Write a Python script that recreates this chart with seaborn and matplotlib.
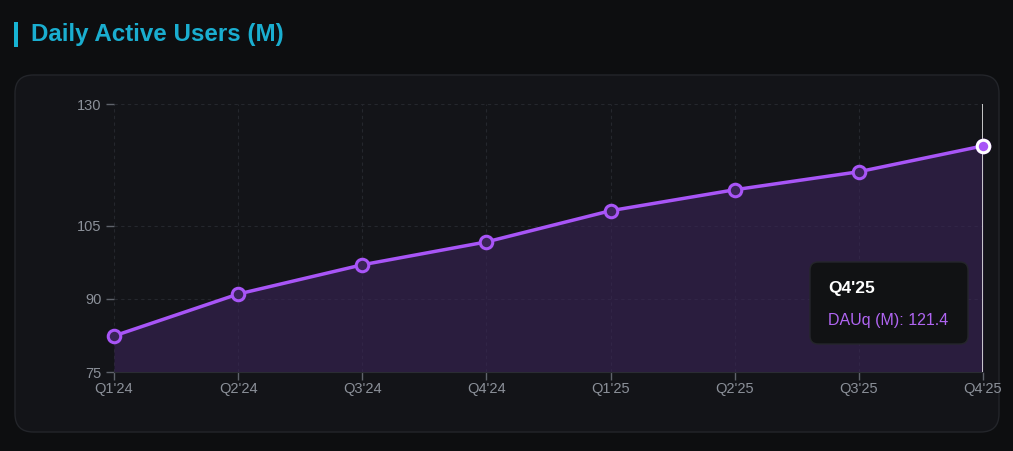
import pandas as pd
import matplotlib
matplotlib.use("Agg")
import matplotlib.pyplot as plt
from matplotlib.patches import FancyBboxPatch, Rectangle
import seaborn as sns

quarters = ["Q1'24", "Q2'24", "Q3'24", "Q4'24", "Q1'25", "Q2'25", "Q3'25", "Q4'25"]
dau = [82.4, 91.0, 97.0, 101.7, 108.1, 112.4, 116.1, 121.4]
y_ticks = [75, 90, 105, 130]

df = pd.DataFrame({"quarter": quarters, "dau": dau})
df["x"] = range(len(df))

sns.set_style("dark")
plt.rcParams["font.family"] = ["Liberation Sans", "DejaVu Sans"]

W, H = 1013, 451
fig = plt.figure(figsize=(W / 100, H / 100), dpi=100)
fig.patch.set_facecolor("#0d0e10")

# card
card = FancyBboxPatch((15 / W, 1 - 432 / H), (999 - 15) / W, (432 - 75) / H,
                      boxstyle="round,pad=0,rounding_size=0.018",
                      transform=fig.transFigure, facecolor="#131418",
                      edgecolor="#23252a", linewidth=1, mutation_aspect=W / H, zorder=-10)
fig.patches.append(card)

# title with accent bar
fig.patches.append(Rectangle((14 / W, 1 - 47 / H), 4 / W, 25 / H, transform=fig.transFigure,
                             facecolor="#17b3d3", edgecolor="none"))
fig.text(31 / W, 1 - 35 / H, "Daily Active Users (M)", color="#1aaed0", fontsize=17.4,
         fontweight="bold", va="center", ha="left")

ax = fig.add_axes([114 / W, 1 - 372 / H, (983 - 114) / W, (372 - 104) / H])
ax.set_facecolor("#131418")

purple = "#a855f7"
ax.fill_between(df["x"], df["dau"], 75, color="#3a2458", alpha=0.6, linewidth=0)
sns.lineplot(data=df, x="x", y="dau", ax=ax, color=purple, linewidth=2.5,
             marker="o", markersize=9, markerfacecolor="#3a2458",
             markeredgecolor=purple, markeredgewidth=2.2, clip_on=False, zorder=5)

# active point + cursor
last = df.iloc[-1]
ax.axvline(last["x"], color="#e6e6e6", linewidth=1.2, zorder=4)
ax.plot([last["x"]], [last["dau"]], "o", markersize=9, markerfacecolor=purple,
        markeredgecolor="white", markeredgewidth=2.2, zorder=6, clip_on=False)

ax.set_xlim(0, len(df) - 1)
ax.set_ylim(75, 130)
ax.set_xticks(df["x"])
ax.set_xticklabels(df["quarter"])
ax.set_yticks(y_ticks)
ax.set_xlabel("")
ax.set_ylabel("")
ax.grid(True, color="#25272d", linestyle=(0, (3, 3)), linewidth=0.8)
for s in ax.spines.values():
    s.set_visible(False)
ax.spines["bottom"].set_visible(True)
ax.spines["bottom"].set_color("#2a2c33")
ax.tick_params(axis="both", bottom=True, left=True, colors="#5f636b", labelcolor="#8b9099",
               labelsize=10.5, length=6, width=1, direction="out", pad=1)
ax.tick_params(axis="y", pad=3)

# tooltip
tip = FancyBboxPatch((810 / W, 1 - 344 / H), 158 / W, 82 / H,
                     boxstyle="round,pad=0,rounding_size=0.008",
                     transform=fig.transFigure, facecolor="#111214",
                     edgecolor="#25262b", linewidth=1, mutation_aspect=W / H, zorder=10)
fig.patches.append(tip)
fig.text(828 / W, 1 - 288 / H, quarters[-1], color="white", fontsize=12.5,
         fontweight="bold", va="center", ha="left", zorder=11)
fig.text(828 / W, 1 - 320 / H, f"DAUq (M): {dau[-1]}", color="#b065f2", fontsize=11.5,
         va="center", ha="left", zorder=11)

fig.savefig("out.png", dpi=100, facecolor=fig.get_facecolor())
